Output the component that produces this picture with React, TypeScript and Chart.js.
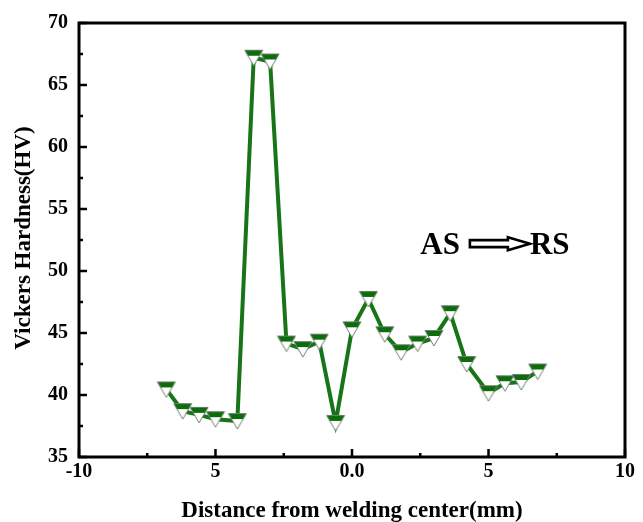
import React, { useEffect, useRef } from "react";
import { Chart, registerables } from "chart.js";
Chart.register(...registerables);

const distances = [-6.8, -6.2, -5.6, -5.0, -4.2, -3.6, -3.0, -2.4, -1.8, -1.2, -0.6, 0.0, 0.6, 1.2, 1.8, 2.4, 3.0, 3.6, 4.2, 5.0, 5.6, 6.2, 6.8];
const hardness = [40.45, 38.7, 38.4, 38.05, 37.9, 67.2, 66.9, 44.15, 43.7, 44.3, 37.75, 45.3, 47.75, 44.9, 43.45, 44.15, 44.6, 46.6, 42.5, 40.15, 40.95, 41.05, 41.9];
const xTickValues = [-10, -5, 0, 5, 10];
const xTickLabels = ["-10", "5", "0.0", "5", "10"];
const yTickValues = [35, 40, 45, 50, 55, 60, 65, 70];
const yTickLabels = ["35", "40", "45", "50", "55", "60", "65", "70"];
const xTitle = "Distance from welding center(mm)";
const yTitle = "Vickers Hardness(HV)";
const annotLeft = "AS";
const annotRight = "RS";

const SERIF = "'Liberation Serif', 'Times New Roman', serif";
const LINE_GREEN = "#177417";
const FILL_GREEN = "#0d6d0d";

function makeMarker(): HTMLCanvasElement {
  const c = document.createElement("canvas");
  c.width = 20;
  c.height = 18;
  const g = c.getContext("2d")!;
  const path = () => {
    g.beginPath();
    g.moveTo(1, 1.5);
    g.lineTo(19, 1.5);
    g.lineTo(10, 17);
    g.closePath();
  };
  path();
  g.fillStyle = "#ffffff";
  g.fill();
  g.save();
  g.clip();
  g.fillStyle = FILL_GREEN;
  g.fillRect(0, 0, 20, 7);
  g.restore();
  g.strokeStyle = "#6f806f";
  g.lineWidth = 1;
  path();
  g.stroke();
  return c;
}

const framePlugin = {
  id: "framePlugin",
  afterDraw(chart: any) {
    const ctx = chart.ctx;
    const { left, right, top, bottom } = chart.chartArea;
    const xs = chart.scales.x;
    const ys = chart.scales.y;
    ctx.save();
    ctx.strokeStyle = "#000";
    ctx.lineWidth = 3;
    ctx.strokeRect(left, top, right - left, bottom - top);
    ctx.lineWidth = 2.5;
    for (let v = xs.min; v <= xs.max + 1e-9; v += 2.5) {
      const px = xs.getPixelForValue(v);
      const len = Math.abs(v % 5) < 1e-9 ? 8 : 4;
      ctx.beginPath();
      ctx.moveTo(px, bottom);
      ctx.lineTo(px, bottom - len);
      ctx.stroke();
    }
    for (let v = ys.min; v <= ys.max + 1e-9; v += 2.5) {
      const py = ys.getPixelForValue(v);
      const len = Math.abs(v % 5) < 1e-9 ? 8 : 4;
      ctx.beginPath();
      ctx.moveTo(left, py);
      ctx.lineTo(left + len, py);
      ctx.stroke();
    }
    // axis titles
    ctx.fillStyle = "#000";
    ctx.font = `bold 23px ${SERIF}`;
    ctx.textAlign = "center";
    ctx.textBaseline = "alphabetic";
    ctx.fillText(xTitle, (left + right) / 2, 517);
    ctx.save();
    ctx.translate(30, (top + bottom) / 2 - 2);
    ctx.rotate(-Math.PI / 2);
    ctx.fillText(yTitle, 0, 0);
    ctx.restore();
    // annotation AS => RS
    const ax = xs.getPixelForValue(2.5);
    const ay = ys.getPixelForValue(51.4);
    ctx.font = `bold 31px ${SERIF}`;
    ctx.textAlign = "left";
    ctx.fillText(annotLeft, ax, ay);
    const w1 = ctx.measureText(annotLeft).width;
    const s = ax + w1 + 10;
    const mid = ay - 10;
    ctx.lineWidth = 2.6;
    ctx.beginPath();
    ctx.moveTo(s, mid - 3.5);
    ctx.lineTo(s + 38, mid - 3.5);
    ctx.lineTo(s + 38, mid - 6.5);
    ctx.lineTo(s + 60, mid);
    ctx.lineTo(s + 38, mid + 6.5);
    ctx.lineTo(s + 38, mid + 3.5);
    ctx.lineTo(s, mid + 3.5);
    ctx.closePath();
    ctx.stroke();
    ctx.fillText(annotRight, s + 60, ay);
    ctx.restore();
  },
};

export default function App() {
  const ref = useRef<HTMLCanvasElement>(null);
  useEffect(() => {
    if (!ref.current) return;
    const marker = makeMarker();
    const chart = new Chart(ref.current, {
      type: "line",
      data: {
        datasets: [
          {
            data: distances.map((d, i) => ({ x: d, y: hardness[i] })),
            borderColor: LINE_GREEN,
            borderWidth: 4,
            pointStyle: marker as any,
            pointRadius: 9,
            pointHoverRadius: 9,
            tension: 0,
            fill: false,
          },
        ],
      },
      options: {
        responsive: false,
        animation: false,
        devicePixelRatio: 1,
        layout: { padding: { top: 17, right: 18, left: 0, bottom: 0 } },
        plugins: { legend: { display: false }, tooltip: { enabled: false } },
        scales: {
          x: {
            type: "linear",
            min: -10,
            max: 10,
            afterFit: (sc: any) => { sc.height = 65; },
            afterBuildTicks: (sc: any) => { sc.ticks = xTickValues.map((v) => ({ value: v })); },
            grid: { display: false, drawTicks: false },
            border: { display: false },
            ticks: {
              padding: 3,
              maxRotation: 0,
              autoSkip: false,
              color: "#000",
              font: { family: SERIF, size: 20, weight: "bold" },
              callback: (v: any) => {
                const i = xTickValues.indexOf(Number(v));
                return i >= 0 ? xTickLabels[i] : "";
              },
            },
          },
          y: {
            type: "linear",
            min: 35,
            max: 70,
            afterFit: (sc: any) => { sc.width = 79; },
            afterBuildTicks: (sc: any) => { sc.ticks = yTickValues.map((v) => ({ value: v })); },
            grid: { display: false, drawTicks: false },
            border: { display: false },
            ticks: {
              padding: 11,
              autoSkip: false,
              color: "#000",
              font: { family: SERIF, size: 20, weight: "bold" },
              callback: (v: any) => {
                const i = yTickValues.indexOf(Number(v));
                return i >= 0 ? yTickLabels[i] : "";
              },
            },
          },
        },
      },
      plugins: [framePlugin],
    });
    return () => chart.destroy();
  }, []);
  return (
    <div style={{ position: "absolute", left: 0, top: 0, width: 643, height: 522, background: "#fff" }}>
      <canvas ref={ref} width={643} height={522} style={{ display: "block" }} />
    </div>
  );
}
